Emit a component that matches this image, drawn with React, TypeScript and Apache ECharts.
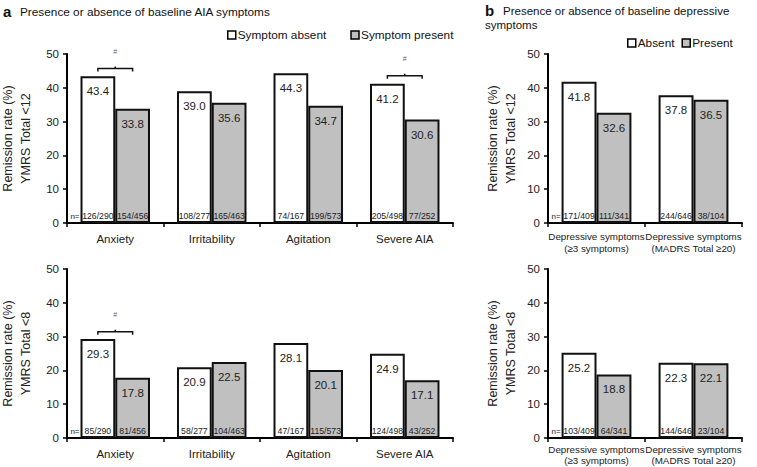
import React, { useEffect, useRef } from "react";
import * as echarts from "echarts";

const FONT = "'Liberation Sans', Arial, sans-serif";

// Panel a: baseline AIA symptoms
const categoriesA = ["Anxiety", "Irritability", "Agitation", "Severe AIA"];
const absentA12 = [43.4, 39.0, 44.3, 41.2];
const presentA12 = [33.8, 35.6, 34.7, 30.6];
const nAbsentA12 = ["126/290", "108/277", "74/167", "205/498"];
const nPresentA12 = ["154/456", "165/463", "199/573", "77/252"];
const absentA8 = [29.3, 20.9, 28.1, 24.9];
const presentA8 = [17.8, 22.5, 20.1, 17.1];
const nAbsentA8 = ["85/290", "58/277", "47/167", "124/498"];
const nPresentA8 = ["81/456", "104/463", "115/573", "43/252"];
// significance brackets: [category index, bracket level]
const sigA12 = [[0, 45.7], [3, 43.6]];
const sigA8 = [[0, 31.4]];

// Panel b: baseline depressive symptoms
const categoriesB = ["Depressive symptoms\n(≥3 symptoms)", "Depressive symptoms\n(MADRS Total ≥20)"];
const absentB12 = [41.8, 37.8];
const presentB12 = [32.6, 36.5];
const nAbsentB12 = ["171/409", "244/646"];
const nPresentB12 = ["111/341", "38/104"];
const absentB8 = [25.2, 22.3];
const presentB8 = [18.8, 22.1];
const nAbsentB8 = ["103/409", "144/646"];
const nPresentB8 = ["64/341", "23/104"];
const sigB12: number[][] = [];
const sigB8: number[][] = [];

const yTicks = { min: 0, max: 50, interval: 10 };
const HALF = 0.18;

function buildSeries(
  g: number,
  cats: string[],
  absent: number[],
  present: number[],
  nAbs: string[],
  nPres: string[],
  sig: number[][],
  names: string[]
) {
  const barLabel = {
    show: true,
    position: "insideTop",
    distance: 9,
    fontSize: 11.5,
    color: "#222",
    fontFamily: FONT,
    formatter: (p: any) => Number(p.value).toFixed(1),
  };
  const series: any[] = [
    {
      type: "bar",
      name: names[0],
      xAxisIndex: g,
      yAxisIndex: g,
      data: absent,
      barWidth: "36%",
      barGap: "0%",
      itemStyle: { color: "#ffffff", borderColor: "#111", borderWidth: 2 },
      label: barLabel,
    },
    {
      type: "bar",
      name: names[1],
      xAxisIndex: g,
      yAxisIndex: g,
      data: present,
      barWidth: "36%",
      barGap: "0%",
      itemStyle: { color: "#c0c0c0", borderColor: "#111", borderWidth: 2 },
      label: barLabel,
    },
    {
      type: "custom",
      xAxisIndex: g,
      yAxisIndex: g,
      silent: true,
      z: 10,
      data: cats.flatMap((_, i) => [
        [i, 0],
        [i, 1],
      ]),
      renderItem: (params: any, api: any) => {
        const i = api.value(0);
        const s = api.value(1);
        const p = api.coord([i, 0]);
        const bw = api.size([1, 0])[0];
        const x = p[0] + (s === 0 ? -HALF : HALF) * bw;
        const children: any[] = [
          {
            type: "text",
            x,
            y: p[1] - 3,
            style: {
              text: s === 0 ? nAbs[i] : nPres[i],
              fontSize: 8.7,
              fontFamily: FONT,
              fill: "#222",
              align: "center",
              verticalAlign: "bottom",
            },
          },
        ];
        if (i === 0 && s === 0) {
          children.push({
            type: "text",
            x: p[0] - 2 * HALF * bw - 1,
            y: p[1] - 3,
            style: {
              text: "n=",
              fontSize: 8,
              fontFamily: FONT,
              fill: "#222",
              align: "right",
              verticalAlign: "bottom",
            },
          });
        }
        return { type: "group", children };
      },
    },
  ];
  if (sig.length) {
    series.push({
      type: "custom",
      xAxisIndex: g,
      yAxisIndex: g,
      silent: true,
      z: 10,
      data: sig,
      renderItem: (params: any, api: any) => {
        const p = api.coord([api.value(0), api.value(1)]);
        const bw = api.size([1, 0])[0];
        const x1 = p[0] - HALF * bw;
        const x2 = p[0] + HALF * bw;
        const y = p[1];
        return {
          type: "group",
          children: [
            {
              type: "polyline",
              shape: { points: [[x1, y + 3], [x1, y], [x2, y], [x2, y + 3]] },
              style: { stroke: "#111", lineWidth: 1.5, fill: null },
            },
            {
              type: "line",
              shape: { x1: p[0], y1: y, x2: p[0], y2: y - 2 },
              style: { stroke: "#111", lineWidth: 1.5 },
            },
            {
              type: "text",
              x: p[0],
              y: y - 17,
              style: {
                text: "#",
                fontSize: 7,
                fontFamily: FONT,
                fill: "#666",
                align: "center",
                verticalAlign: "middle",
              },
            },
          ],
        };
      },
    });
  }
  return series;
}

function xAxis(g: number, cats: string[], fontSize: number, margin: number, lineHeight: number) {
  return {
    type: "category",
    gridIndex: g,
    data: cats,
    axisLine: { lineStyle: { color: "#000", width: 2 } },
    axisTick: { show: true, length: 4, lineStyle: { color: "#000", width: 1.5 } },
    axisLabel: {
      fontSize,
      color: "#222",
      margin,
      lineHeight,
      fontFamily: FONT,
      interval: 0,
      hideOverlap: false,
      overflow: "none",
    },
  };
}

function yAxis(g: number, name: string) {
  return {
    type: "value",
    gridIndex: g,
    min: yTicks.min,
    max: yTicks.max,
    interval: yTicks.interval,
    axisLine: { show: true, lineStyle: { color: "#000", width: 2 } },
    axisTick: { show: true, length: 4, lineStyle: { color: "#000", width: 1.5 } },
    splitLine: { show: false },
    axisLabel: { fontSize: 11.5, color: "#222", margin: 8, fontFamily: FONT },
    name,
    nameLocation: "middle",
    nameGap: 28,
    nameTextStyle: { fontSize: 12.5, color: "#222", lineHeight: 18, fontFamily: FONT },
  };
}

const gridBase = { containLabel: false, outerBoundsMode: "none" };

export default function App() {
  const ref = useRef<HTMLDivElement>(null);
  useEffect(() => {
    document.body.style.margin = "0";
    const chart = echarts.init(ref.current!, undefined, { renderer: "svg" });
    const namesA = ["Symptom absent", "Symptom present"];
    const namesB = ["Absent", "Present"];
    chart.setOption({
      animation: false,
      backgroundColor: "#fff",
      textStyle: { fontFamily: FONT },
      grid: [
        { ...gridBase, left: 67, top: 54, width: 386, height: 169 },
        { ...gridBase, left: 67, top: 269, width: 386, height: 169 },
        { ...gridBase, left: 548, top: 54, width: 194, height: 169 },
        { ...gridBase, left: 548, top: 269, width: 194, height: 169 },
      ],
      xAxis: [
        xAxis(0, categoriesA, 11.5, 9, 13),
        xAxis(1, categoriesA, 11.5, 9, 13),
        xAxis(2, categoriesB, 9.8, 8, 11.5),
        xAxis(3, categoriesB, 9.8, 6, 11),
      ],
      yAxis: [
        yAxis(0, "Remission rate (%)\nYMRS Total <12"),
        yAxis(1, "Remission rate (%)\nYMRS Total <8"),
        yAxis(2, "Remission rate (%)\nYMRS Total <12"),
        yAxis(3, "Remission rate (%)\nYMRS Total <8"),
      ],
      legend: [
        {
          data: namesA,
          left: 222,
          top: 24,
          icon: "rect",
          itemWidth: 8,
          itemHeight: 8,
          itemGap: 24,
          textStyle: { fontSize: 11.8, color: "#111", fontFamily: FONT, padding: [0, 0, 0, -3] },
          itemStyle: { borderColor: "#000", borderWidth: 1.5 },
        },
        {
          data: namesB,
          left: 622,
          top: 32,
          icon: "rect",
          itemWidth: 8,
          itemHeight: 8,
          itemGap: 7,
          textStyle: { fontSize: 11.8, color: "#111", fontFamily: FONT, padding: [0, 0, 0, -3] },
          itemStyle: { borderColor: "#000", borderWidth: 1.5 },
        },
      ],
      graphic: [
        { type: "text", left: 3, top: 4, style: { text: "a", font: `bold 15px ${FONT}`, fill: "#111" } },
        {
          type: "text",
          left: 20,
          top: 6,
          style: { text: "Presence or absence of baseline AIA symptoms", font: `11.8px ${FONT}`, fill: "#111" },
        },
        { type: "text", left: 485, top: 3, style: { text: "b", font: `bold 15px ${FONT}`, fill: "#111" } },
        {
          type: "text",
          left: 503,
          top: 5,
          style: { text: "Presence or absence of baseline depressive", font: `11.5px ${FONT}`, fill: "#111" },
        },
        { type: "text", left: 485, top: 19, style: { text: "symptoms", font: `11.5px ${FONT}`, fill: "#111" } },
      ],
      series: [
        ...buildSeries(0, categoriesA, absentA12, presentA12, nAbsentA12, nPresentA12, sigA12, namesA),
        ...buildSeries(1, categoriesA, absentA8, presentA8, nAbsentA8, nPresentA8, sigA8, namesA),
        ...buildSeries(2, categoriesB, absentB12, presentB12, nAbsentB12, nPresentB12, sigB12, namesB),
        ...buildSeries(3, categoriesB, absentB8, presentB8, nAbsentB8, nPresentB8, sigB8, namesB),
      ],
    });
    return () => chart.dispose();
  }, []);
  return <div ref={ref} style={{ width: 757, height: 467 }} />;
}
